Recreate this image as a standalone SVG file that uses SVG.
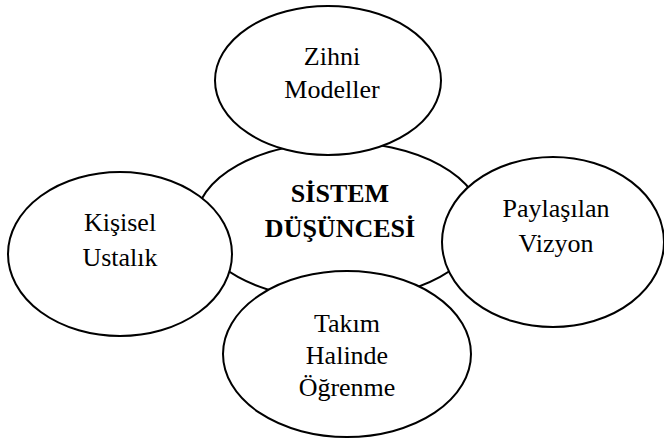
<svg xmlns="http://www.w3.org/2000/svg" width="664" height="439" viewBox="0 0 664 439">
  <style>
    .node ellipse { fill: #ffffff; stroke: #000000; stroke-width: 2; }
    .node text { font-family: "Liberation Serif", "Times New Roman", serif; font-size: 26px; fill: #000000; text-anchor: middle; }
    .node text.bold { font-weight: bold; }
  </style>
  <rect width="664" height="439" fill="#ffffff"/>
  <g id="connectors"></g>

  <!-- central concept -->
  <g id="sistem-dusuncesi" class="node">
    <ellipse cx="339" cy="221" rx="143" ry="79"/>
    <text class="bold" x="340" y="202">SİSTEM</text>
    <text class="bold" x="340" y="237">DÜŞÜNCESİ</text>
  </g>

  <!-- surrounding disciplines -->
  <g id="zihni-modeller" class="node">
    <ellipse cx="328" cy="80.5" rx="113" ry="74.5"/>
    <text x="332" y="65">Zihni</text>
    <text x="332" y="98">Modeller</text>
  </g>

  <g id="kisisel-ustalik" class="node">
    <ellipse cx="120" cy="254" rx="112" ry="82"/>
    <text x="120" y="231">Kişisel</text>
    <text x="120" y="266">Ustalık</text>
  </g>

  <g id="paylasilan-vizyon" class="node">
    <ellipse cx="553" cy="242" rx="111" ry="85"/>
    <text x="556" y="217">Paylaşılan</text>
    <text x="556" y="252">Vizyon</text>
  </g>

  <g id="takim-halinde-ogrenme" class="node">
    <ellipse cx="347" cy="354" rx="124" ry="83"/>
    <text x="347" y="332">Takım</text>
    <text x="347" y="364">Halinde</text>
    <text x="347" y="396">Öğrenme</text>
  </g>
</svg>
